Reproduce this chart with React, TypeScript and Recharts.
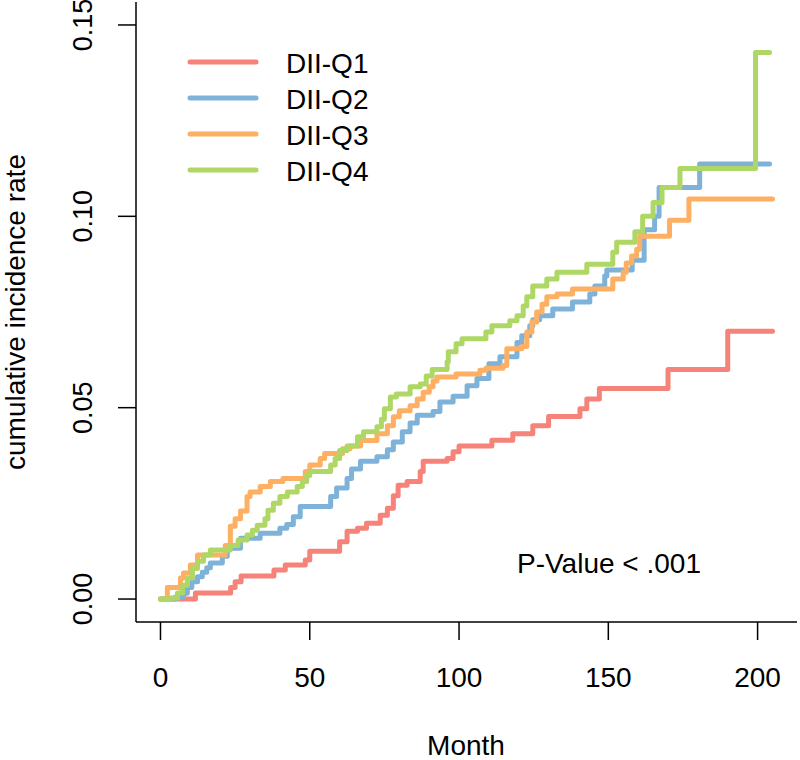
import React from "react";
import { LineChart, Line, XAxis, YAxis } from "recharts";

const FONT = '"Liberation Sans", Arial, sans-serif';

const seriesNames = ["DII-Q1", "DII-Q2", "DII-Q3", "DII-Q4"];
const seriesColors = ["#F5837A", "#7EB2D9", "#FDB064", "#AFD766"];

const monthTicks = [0, 50, 100, 150, 200];
const rateTicks = [0, 0.05, 0.1, 0.15];

// [month, cumulative incidence] at each event time
const q1Steps: [number, number][] = [
  [0, 0], [11.7, 0.0016], [23.5, 0.003], [25, 0.0045], [27, 0.006], [38, 0.0076],
  [41.8, 0.0089], [48.5, 0.0102], [50, 0.0125], [60, 0.015], [62.5, 0.0177],
  [66, 0.0185], [69, 0.0198], [73.6, 0.0219], [76, 0.0237], [78, 0.027],
  [79.6, 0.0297], [82.6, 0.0307], [87, 0.0333], [88, 0.036], [96, 0.0367],
  [98, 0.0385], [100, 0.04], [111, 0.0415], [118, 0.0432], [124.7, 0.0453],
  [130, 0.0477], [140.5, 0.0497], [142.8, 0.0523], [147, 0.055], [170, 0.06],
  [190, 0.07], [205, 0.07],
];

const q2Steps: [number, number][] = [
  [0, 0], [5, 0.0005], [7.7, 0.0015], [9, 0.003], [10.5, 0.0045], [12.4, 0.0058],
  [14, 0.007], [15.5, 0.0082], [16.7, 0.0094], [20.7, 0.0112], [22.4, 0.0133],
  [26.8, 0.0159], [33.4, 0.0172], [40, 0.0185], [42.3, 0.0195], [44.5, 0.0215],
  [46.8, 0.0242], [57, 0.0268], [59, 0.029], [62.5, 0.0315], [64, 0.034],
  [67, 0.036], [72.5, 0.0372], [76, 0.039], [78, 0.041], [81, 0.0437],
  [83.6, 0.046], [86, 0.048], [91.3, 0.049], [93.6, 0.0515], [98, 0.053],
  [102.7, 0.0557], [106, 0.0576], [110, 0.0615], [113.7, 0.0633], [119.4, 0.067],
  [121, 0.0688], [123.7, 0.0714], [124.7, 0.073], [127, 0.074], [131.4, 0.0758],
  [138, 0.0776], [143.8, 0.0797], [145.5, 0.0818], [148.8, 0.0844], [149.5, 0.086],
  [158, 0.0885], [162, 0.0965], [165.5, 0.1], [167, 0.1075], [180.6, 0.1137],
  [204, 0.1137],
];

const q3Steps: [number, number][] = [
  [0, 0], [2.3, 0.003], [6.7, 0.0055], [7.7, 0.0068], [10, 0.0089], [12.4, 0.0115],
  [21.7, 0.014], [23.4, 0.019], [25, 0.021], [26.8, 0.023], [29, 0.0268],
  [30, 0.028], [33.4, 0.0294], [36.8, 0.0307], [41, 0.0315], [48.5, 0.0333],
  [50, 0.035], [53.5, 0.0367], [55, 0.038], [61, 0.0393], [63.5, 0.04],
  [67, 0.0414], [72.5, 0.0432], [76, 0.0453], [78, 0.0476], [80, 0.0492],
  [83.6, 0.0505], [86, 0.0523], [88, 0.054], [90, 0.0555], [91.3, 0.057],
  [92.6, 0.058], [99, 0.0588], [107, 0.0598], [109, 0.0603], [114.7, 0.061],
  [116, 0.0654], [121, 0.066], [122.7, 0.0698], [124.4, 0.0724], [126, 0.075],
  [127.8, 0.077], [129.4, 0.079], [132.8, 0.0797], [138, 0.081], [151.5, 0.0836],
  [155, 0.0854], [156, 0.0878], [157.8, 0.0896], [159.5, 0.0914], [160.5, 0.0948],
  [170.5, 0.099], [177, 0.1045], [205, 0.1045],
];

const q4Steps: [number, number][] = [
  [0, 0], [3.3, 0.0003], [5.7, 0.0016], [7.4, 0.0036], [9, 0.0055], [10.7, 0.008],
  [12.4, 0.0099], [14.4, 0.0115], [16.7, 0.0128], [23.4, 0.014], [26, 0.0154],
  [29, 0.0167], [30.8, 0.018], [32.4, 0.0193], [35, 0.021], [36, 0.0232],
  [37.8, 0.025], [40, 0.0268], [42.5, 0.028], [45.8, 0.0294], [47.5, 0.0307],
  [49, 0.0323], [50, 0.0333], [57, 0.035], [58.5, 0.0367], [60, 0.0388],
  [62.5, 0.04], [66, 0.0424], [68, 0.0437], [72.5, 0.045], [74, 0.047],
  [75, 0.0497], [77, 0.0528], [79, 0.0536], [83.6, 0.0555], [87, 0.0562],
  [89, 0.0583], [91, 0.06], [96, 0.062], [96.4, 0.0646], [99, 0.0667],
  [101, 0.068], [109, 0.0698], [111, 0.0714], [117, 0.0727], [119.4, 0.074],
  [121.5, 0.0766], [122.7, 0.079], [124.7, 0.0818], [129.4, 0.0836], [132.8, 0.0854],
  [142.8, 0.0875], [151.5, 0.0906], [152.8, 0.0932], [158.9, 0.096], [161.5, 0.1],
  [165, 0.1036], [168, 0.1075], [174, 0.1125], [199.3, 0.1428], [204, 0.1428],
];

const allSteps = [q1Steps, q2Steps, q3Steps, q4Steps];
const toRows = (steps: [number, number][]) => steps.map(([t, v]) => ({ t, v }));

const XTick = ({ x, y, payload }: any) => (
  <text x={x} y={y + 47} textAnchor="middle" fontSize={28} fontFamily={FONT} fill="#000">
    {payload.value}
  </text>
);

const YTick = ({ x, y, payload }: any) => (
  <text
    x={x - 26}
    y={y}
    transform={`rotate(-90, ${x - 26}, ${y})`}
    textAnchor="middle"
    fontSize={27}
    fontFamily={FONT}
    fill="#000"
  >
    {Number(payload.value).toFixed(2)}
  </text>
);

export default function App() {
  return (
    <div style={{ position: "absolute", left: 0, top: 0, width: 800, height: 760, background: "#fff" }}>
      <LineChart width={800} height={760} margin={{ top: 2, right: 3, left: 0, bottom: 0 }}>
        <XAxis
          type="number"
          dataKey="t"
          domain={[-8.2, 213.2]}
          ticks={monthTicks}
          height={138}
          tickSize={18}
          tickMargin={0}
          tick={<XTick />}
          axisLine={{ stroke: "#000", strokeWidth: 1.5 }}
          tickLine={{ stroke: "#000", strokeWidth: 1.5 }}
        />
        <YAxis
          type="number"
          domain={[-0.006, 0.156]}
          ticks={rateTicks}
          width={136}
          tickSize={18}
          tickMargin={0}
          tick={<YTick />}
          axisLine={{ stroke: "#000", strokeWidth: 1.5 }}
          tickLine={{ stroke: "#000", strokeWidth: 1.5 }}
        />
        {allSteps.map((steps, i) => (
          <Line
            key={seriesNames[i]}
            name={seriesNames[i]}
            data={toRows(steps)}
            dataKey="v"
            type="stepAfter"
            stroke={seriesColors[i]}
            strokeWidth={5}
            strokeLinecap="round"
            strokeLinejoin="round"
            dot={false}
            activeDot={false}
            isAnimationActive={false}
          />
        ))}
      </LineChart>
      <svg
        width={800}
        height={760}
        style={{ position: "absolute", left: 0, top: 0, pointerEvents: "none" }}
        fontFamily={FONT}
      >
        {seriesNames.map((name, i) => (
          <g key={name}>
            <line x1={190} x2={256} y1={62 + i * 36} y2={62 + i * 36} stroke={seriesColors[i]} strokeWidth={5} strokeLinecap="round" />
            <text x={286} y={73 + i * 36} fontSize={28} fill="#000">{name}</text>
          </g>
        ))}
        <text x={609} y={573} textAnchor="middle" fontSize={28} fill="#000">P-Value &lt; .001</text>
        <text x={466} y={755} textAnchor="middle" fontSize={28} fill="#000">Month</text>
        <text x={25} y={312} transform="rotate(-90, 25, 312)" textAnchor="middle" fontSize={28} fill="#000">
          cumulative incidence rate
        </text>
      </svg>
    </div>
  );
}
